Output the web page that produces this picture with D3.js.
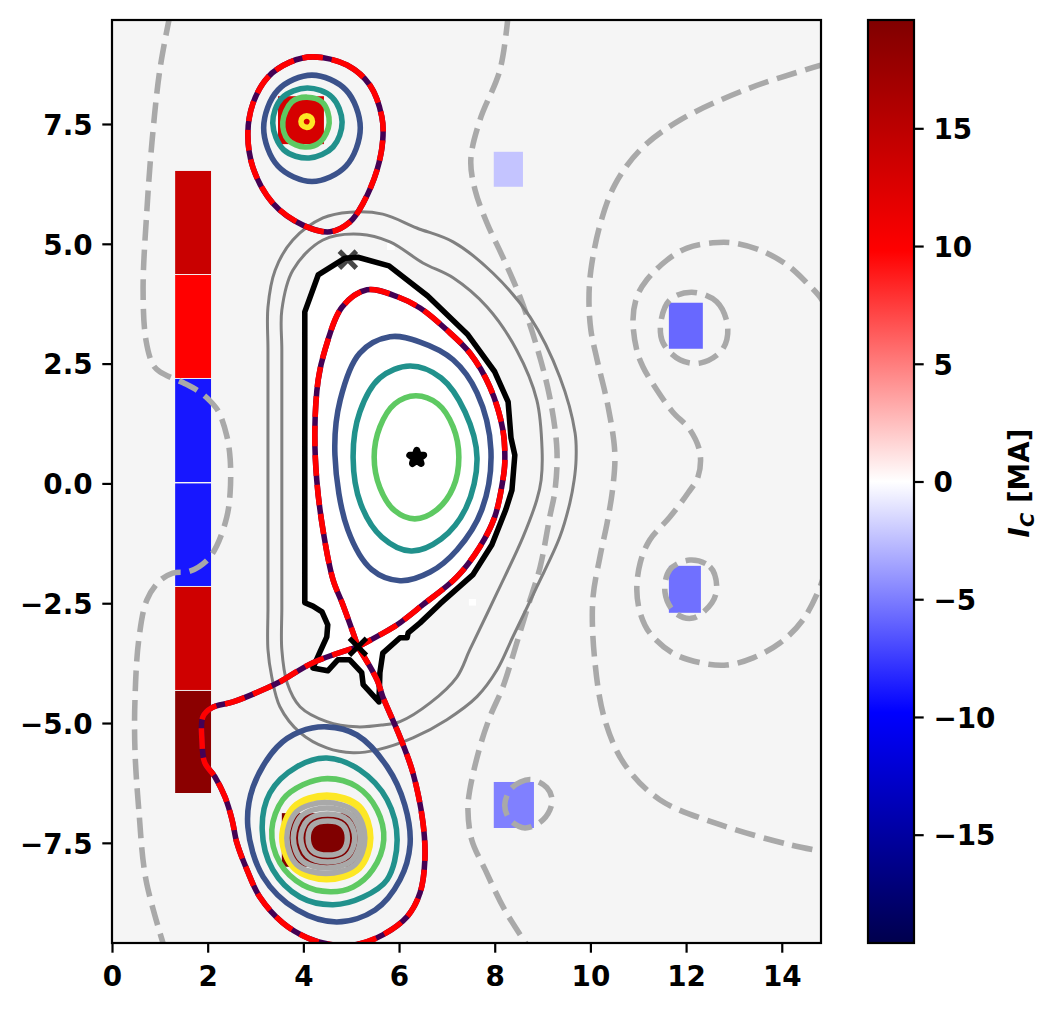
<!DOCTYPE html>
<html lang="en">

<head>
  <meta charset="UTF-8">
  <title>Equilibrium flux contours</title>
  <script src="https://d3js.org/d3.v7.min.js"></script>
  <style>
    body {
      margin: 0;
      background: #ffffff;
    }

    svg {
      display: block;
    }

    text {
      font-family: "DejaVu Sans", sans-serif;
      font-weight: bold;
      fill: #000000;
    }

    .tick text {
      font-size: 27.8px;
    }

    path.contour {
      fill: none;
      stroke-linejoin: round;
    }
  </style>
</head>

<body>
  <svg width="1057" height="1011"></svg>
  <script>
    // tick labels and limits
    const xLimits = [0, 14.82];
    const yLimits = [-9.59, 9.67];
    const currentLimits = [-19.6, 19.6];
    const xTicks = [0, 2, 4, 6, 8, 10, 12, 14];
    const yTicks = [-7.5, -5, -2.5, 0, 2.5, 5, 7.5];
    const currentTicks = [-15, -10, -5, 0, 5, 10, 15];

    // seismic colormap anchors
    const seismicValues = [-19.6, -9.8, 0, 9.8, 19.6];
    const seismicColors = ["#00004d", "#0000ff", "#ffffff", "#ff0000", "#800000"];

    // coils: [r0, r1, z0, z1, current in MA]
    const coils = [
      [1.32, 2.07, 4.37, 6.52, 14.0],
      [1.32, 2.07, 2.2, 4.35, 9.8],
      [1.32, 2.07, 0.03, 2.18, -8.9],
      [1.32, 2.07, -2.14, 0, -8.9],
      [1.32, 2.07, -4.31, -2.16, 13.5],
      [1.32, 2.07, -6.46, -4.33, 18.75],
      [3.47, 4.43, 7.08, 8.08, 13.0],
      [7.98, 8.59, 6.19, 6.92, -2.26],
      [11.64, 12.35, 2.81, 3.77, -5.8],
      [11.64, 12.31, -2.70, -1.72, -5.5],
      [7.98, 8.82, -7.19, -6.23, -4.9],
      [3.55, 5.18, -8.0, -6.88, 19.6]
    ];
    const whiteSpecks = [
      [7.46, 7.61, -2.55, -2.41],
      [5.75, 5.91, 4.87, 5.02]
    ];

    // first wall
    const limiter = [[4.03, -2.49], [4.03, 3.58], [4.31, 4.35], [4.87, 4.70], [5.14, 4.72], [5.79, 4.54], [6.60, 3.91], [7.44, 3.10], [8.00, 2.33], [8.28, 1.70], [8.34, 0.95], [8.42, 0.59], [8.36, -0.14], [8.23, -0.55], [7.94, -1.28], [7.54, -1.91], [6.86, -2.51], [6.44, -2.91], [6.19, -3.12], [6.17, -3.22], [6.02, -3.22], [5.66, -3.54], [5.60, -3.95], [5.58, -4.56], [5.25, -4.20], [5.22, -3.95], [4.97, -3.68], [4.72, -3.68], [4.51, -3.91], [4.20, -3.85], [4.35, -3.51], [4.49, -3.20], [4.51, -2.95], [4.39, -2.68], [4.20, -2.56]];

    // separatrix pieces
    const sepCore = [[5.14, -3.41], [5.04, -3.12], [4.81, -2.49], [4.62, -2.01], [4.41, -0.97], [4.28, 0.07], [4.24, 1.12], [4.31, 2.16], [4.45, 2.78], [4.81, 3.68], [5.33, 4.04], [5.98, 3.89], [6.44, 3.66], [7.00, 3.20], [7.48, 2.72], [7.90, 2.01], [8.17, 1.12], [8.21, 0.43], [8.17, 0.07], [8.00, -0.70], [7.69, -1.32], [7.21, -1.95], [6.50, -2.53], [5.96, -2.95], [5.60, -3.16], [5.14, -3.41]];
    const sepLower = [[5.14, -3.41], [5.54, -4.10], [5.66, -4.45], [6.02, -5.29], [6.29, -6.04], [6.50, -7.08], [6.54, -7.85], [6.44, -8.54], [6.17, -9.04], [5.66, -9.42], [5.12, -9.62], [4.56, -9.62], [4.08, -9.48], [3.57, -9.17], [3.09, -8.63], [2.82, -8.06], [2.61, -7.50], [2.51, -7.02], [2.36, -6.54], [2.15, -6.12], [1.94, -5.83], [1.88, -5.35], [1.90, -4.87], [2.09, -4.68], [2.53, -4.56], [3.24, -4.27], [3.51, -4.14], [4.20, -3.74], [5.14, -3.41]];
    const sepUpper = [[4.20, 8.90], [4.91, 8.73], [5.39, 8.31], [5.64, 7.65], [5.66, 7.17], [5.54, 6.54], [5.25, 5.85], [4.97, 5.45], [4.56, 5.25], [3.99, 5.39], [3.36, 5.85], [2.95, 6.58], [2.84, 7.31], [2.95, 7.94], [3.26, 8.48], [3.72, 8.79]];

    // closed flux levels, one colour per level
    const coreBlue = [[4.66, 0.59], [4.77, 1.74], [5.18, 2.72], [5.81, 3.06], [6.44, 2.95], [7.13, 2.58], [7.63, 1.89], [7.92, 0.70], [7.73, -0.55], [7.21, -1.39], [6.65, -1.85], [6.02, -2.03], [5.43, -1.80], [4.93, -0.97]];
    const coreTeal = [[7.63, 0.53], [7.38, 1.49], [6.88, 2.20], [6.23, 2.45], [5.60, 2.20], [5.18, 1.49], [5.04, 0.53], [5.20, -0.43], [5.64, -1.12], [6.25, -1.41], [6.88, -1.16], [7.40, -0.51]];
    const coreGreen = [[7.25, 0.55], [7.13, 1.18], [6.81, 1.66], [6.35, 1.83], [5.91, 1.66], [5.60, 1.18], [5.48, 0.55], [5.60, -0.09], [5.91, -0.57], [6.33, -0.74], [6.79, -0.55], [7.13, -0.09]];

    const upperBlue = [[4.18, 8.52], [4.89, 8.21], [5.19, 7.42], [4.89, 6.62], [4.18, 6.30], [3.47, 6.62], [3.17, 7.42], [3.47, 8.21]];
    const upperTeal = [[4.08, 8.25], [4.60, 8.06], [4.81, 7.54], [4.62, 7.02], [4.12, 6.79], [3.59, 6.96], [3.36, 7.52], [3.55, 8.04]];
    const upperGreen = [[4.08, 8.06], [4.41, 7.94], [4.54, 7.52], [4.35, 7.12], [4.03, 7.02], [3.68, 7.17], [3.57, 7.54], [3.76, 7.96]];
    const upperYellow = [[4.07, 7.67], [4.16, 7.63], [4.19, 7.55], [4.15, 7.46], [4.07, 7.43], [3.98, 7.47], [3.95, 7.55], [3.98, 7.63]];

    const lowerBlue = [[4.49, -5.08], [5.12, -5.25], [5.75, -5.91], [6.12, -6.71], [6.23, -7.54], [6.02, -8.27], [5.50, -8.90], [4.70, -9.15], [3.87, -8.90], [3.16, -8.21], [2.84, -7.17], [2.95, -6.33], [3.45, -5.50], [3.93, -5.18]];
    const lowerTeal = [[4.49, -5.73], [5.18, -5.98], [5.75, -6.60], [5.96, -7.44], [5.75, -8.27], [5.25, -8.63], [4.62, -8.79], [3.93, -8.63], [3.36, -8.06], [3.14, -7.23], [3.30, -6.46], [3.87, -5.91]];
    const lowerGreen = [[4.51, -6.16], [5.12, -6.33], [5.54, -6.81], [5.68, -7.44], [5.45, -8.06], [5.04, -8.42], [4.56, -8.52], [3.99, -8.38], [3.51, -7.92], [3.34, -7.23], [3.57, -6.60], [3.99, -6.29]];
    const lowerYellow = [[4.49, -6.52], [5.16, -6.75], [5.39, -7.40], [5.16, -8.02], [4.49, -8.25], [3.82, -8.02], [3.57, -7.40], [3.82, -6.75]];

    // packed levels inside the lower coil
    const lowerRings = [
      [[4.47, -6.66], [5.08, -6.85], [5.285, -7.40], [5.08, -7.95], [4.47, -8.14], [3.86, -7.95], [3.655, -7.40], [3.86, -6.85]],
      [[4.49, -6.774], [5.01, -6.93], [5.19, -7.40], [5.01, -7.87], [4.49, -8.026], [3.97, -7.87], [3.79, -7.40], [3.97, -6.93]],
      [[4.51, -6.90], [4.93, -7.03], [5.075, -7.40], [4.93, -7.77], [4.51, -7.90], [4.09, -7.77], [3.945, -7.40], [4.09, -7.03]],
      [[4.51, -7.045], [4.82, -7.13], [4.92, -7.40], [4.82, -7.67], [4.51, -7.755], [4.20, -7.67], [4.10, -7.40], [4.20, -7.13]]
    ];

    // scrape-off layer levels
    const solOuter = [[3.26, -2.60], [3.26, -1.60], [3.26, 0], [3.26, 1.74], [3.26, 2.80], [3.26, 3.68], [3.41, 4.45], [3.78, 5.08], [4.41, 5.54], [4.97, 5.66], [5.66, 5.62], [6.37, 5.33], [7.13, 5.04], [7.96, 4.39], [8.74, 3.47], [9.36, 2.22], [9.68, 1.05], [9.70, 0.49], [9.66, 0.07], [9.57, -0.41], [9.36, -1.12], [8.88, -2.16], [8.38, -3.20], [8.05, -3.89], [7.63, -4.45], [7.00, -4.93], [6.29, -5.31], [5.54, -5.56], [5.04, -5.62], [4.49, -5.52], [3.93, -5.20], [3.51, -4.66], [3.34, -4.04], [3.26, -3.47]];
    const solInner = [[3.55, -2.60], [3.55, -1.60], [3.55, 0], [3.55, 1.74], [3.55, 2.80], [3.55, 3.62], [3.78, 4.45], [4.41, 5.08], [5.18, 5.20], [5.81, 5.04], [6.50, 4.60], [7.13, 4.29], [7.84, 3.68], [8.46, 2.78], [8.88, 1.74], [8.99, 0.70], [8.97, 0.07], [8.88, -0.34], [8.59, -1.12], [8.05, -2.28], [7.48, -3.47], [7.21, -4.04], [6.65, -4.58], [6.02, -4.97], [5.66, -5.04], [5.12, -5.08], [4.49, -4.97], [3.93, -4.66], [3.66, -4.16], [3.55, -3.47]];

    // dashed vacuum levels
    const vacuumLeft = [[1.21, 9.77], [1.00, 8.63], [0.84, 7.17], [0.73, 5.71], [0.65, 4.04], [0.71, 2.99], [0.86, 2.47], [1.00, 2.33], [1.53, 2.08], [1.80, 1.93], [2.01, 1.76], [2.22, 1.51], [2.40, 0.99], [2.47, 0.51], [2.47, -0.18], [2.40, -0.70], [2.19, -1.30], [1.99, -1.60], [1.63, -1.83], [1.27, -1.87], [1.00, -2.03], [0.73, -2.43], [0.56, -3.26], [0.48, -4.52], [0.48, -5.56], [0.56, -6.81], [0.71, -8.27], [1.11, -9.73]];
    const vacuumMiddle = [[8.28, 9.77], [8.11, 8.63], [7.69, 7.58], [7.50, 6.75], [7.59, 6.12], [7.84, 5.43], [8.17, 4.72], [8.53, 3.89], [8.88, 2.85], [9.15, 1.80], [9.30, 0.70], [9.26, -0.14], [9.15, -0.70], [8.95, -1.74], [8.69, -2.58], [8.46, -3.33], [8.17, -4.25], [7.90, -4.87], [7.69, -5.50], [7.48, -6.39], [7.44, -6.81], [7.52, -7.44], [7.80, -8.06], [8.21, -8.90], [8.74, -9.73]];
    const vacuumRight = [[14.90, 8.75], [13.33, 8.25], [11.87, 7.58], [11.04, 6.96], [10.51, 6.23], [10.20, 5.39], [10.01, 4.45], [9.97, 3.83], [10.01, 3.20], [10.14, 2.58], [10.37, 1.60], [10.51, 0.64], [10.47, -0.07], [10.35, -0.82], [10.20, -1.53], [10.05, -2.43], [10.09, -3.68], [10.30, -4.93], [10.72, -5.87], [11.45, -6.60], [12.71, -7.12], [14.17, -7.54], [14.90, -7.69]];
    const vacuumBulge = [[14.90, 3.72], [14.80, 3.89], [14.53, 4.18], [14.11, 4.56], [13.54, 4.87], [12.98, 5.02], [12.56, 5.02], [12.02, 4.91], [11.60, 4.66], [11.18, 4.25], [10.97, 3.89], [10.89, 3.41], [10.97, 2.78], [11.10, 2.43], [11.39, 1.95], [11.72, 1.49], [12.08, 1.12], [12.29, 0.64], [12.25, 0.14], [12.04, -0.20], [11.66, -0.70], [11.24, -1.18], [11.04, -1.66], [10.97, -2.22], [11.04, -2.70], [11.24, -3.12], [11.72, -3.54], [12.29, -3.74], [12.85, -3.79], [13.40, -3.64], [13.96, -3.33], [14.44, -2.85], [14.80, -2.16], [14.90, -1.85]];
    const loopUpperRight = [[12.12, 3.99], [12.64, 3.79], [12.87, 3.26], [12.75, 2.78], [12.29, 2.51], [11.87, 2.58], [11.52, 2.93], [11.47, 3.35], [11.66, 3.83]];
    const loopLowerRight = [[12.08, -1.60], [12.50, -1.74], [12.64, -2.16], [12.54, -2.49], [12.14, -2.81], [11.77, -2.70], [11.56, -2.28], [11.66, -1.80]];
    const loopLowerMid = [[8.21, -6.71], [8.36, -6.35], [8.74, -6.18], [9.09, -6.35], [9.20, -6.64], [9.01, -7.02], [8.63, -7.19], [8.32, -7.02]];

    // magnetic axis and x points
    const oPoint = [6.37, 0.54];
    const xPointUpper = [4.93, 4.67];
    const xPointLower = [5.14, -3.41];

    const svg = d3.select("svg");
    const plotLeft = 112, plotRight = 821, plotTop = 20, plotBottom = 943;
    const barLeft = 868, barRight = 914;
    const lw = 5.56;

    const x = d3.scaleLinear().domain(xLimits).range([plotLeft, plotRight]);
    const y = d3.scaleLinear().domain(yLimits).range([plotBottom, plotTop]);
    const yBar = d3.scaleLinear().domain(currentLimits).range([plotBottom, plotTop]);
    const seismic = d3.scaleLinear().domain(seismicValues).range(seismicColors);

    svg.append("clipPath").attr("id", "plotClip")
      .append("rect")
      .attr("x", plotLeft).attr("y", plotTop)
      .attr("width", plotRight - plotLeft).attr("height", plotBottom - plotTop);

    const closedLine = d3.line().x(d => x(d[0])).y(d => y(d[1])).curve(d3.curveCatmullRomClosed.alpha(0.5));
    const openLine = d3.line().x(d => x(d[0])).y(d => y(d[1])).curve(d3.curveCatmullRom.alpha(0.5));
    const wallLine = d3.line().x(d => x(d[0])).y(d => y(d[1])).curve(d3.curveLinearClosed);

    svg.append("rect")
      .attr("x", plotLeft).attr("y", plotTop)
      .attr("width", plotRight - plotLeft).attr("height", plotBottom - plotTop)
      .attr("fill", "#f5f5f5");

    const plot = svg.append("g").attr("clip-path", "url(#plotClip)");

    function contour(data, gen, color, width, dash) {
      plot.append("path")
        .datum(data)
        .attr("class", "contour")
        .attr("d", gen)
        .attr("stroke", color)
        .attr("stroke-width", width)
        .attr("stroke-dasharray", dash || null);
    }

    // inside of the vessel is white
    plot.append("path").datum(limiter).attr("d", wallLine).attr("fill", "#ffffff");

    plot.selectAll("rect.speck")
      .data(whiteSpecks)
      .enter()
      .append("rect")
      .attr("class", "speck")
      .attr("x", d => x(d[0]))
      .attr("y", d => y(d[3]))
      .attr("width", d => x(d[1]) - x(d[0]))
      .attr("height", d => y(d[2]) - y(d[3]))
      .attr("fill", "#ffffff");

    plot.selectAll("rect.coil")
      .data(coils)
      .enter()
      .append("rect")
      .attr("class", "coil")
      .attr("x", d => x(d[0]))
      .attr("y", d => y(d[3]))
      .attr("width", d => x(d[1]) - x(d[0]))
      .attr("height", d => y(d[2]) - y(d[3]))
      .attr("fill", d => seismic(d[4]));

    const dashed = "20.6 8.9";
    [vacuumLeft, vacuumMiddle, vacuumRight, vacuumBulge].forEach(c => contour(c, openLine, "#a9a9a9", lw, dashed));
    [loopUpperRight, loopLowerRight, loopLowerMid].forEach(c => contour(c, closedLine, "#a9a9a9", lw, dashed));

    contour(solOuter, closedLine, "#808080", 3);
    contour(solInner, closedLine, "#808080", 3);

    [coreBlue, upperBlue, lowerBlue].forEach(c => contour(c, closedLine, "#3b528b", lw));
    [coreTeal, upperTeal, lowerTeal].forEach(c => contour(c, closedLine, "#21918c", lw));
    [coreGreen, upperGreen, lowerGreen].forEach(c => contour(c, closedLine, "#5ec962", lw));
    contour(upperYellow, closedLine, "#fde725", lw);
    contour(lowerYellow, closedLine, "#fde725", 7.5);
    lowerRings.forEach(c => contour(c, closedLine, "#a9a9a9", lw));

    contour(limiter, wallLine, "#000000", lw);

    // separatrix: solid purple level with the red dashes on top
    [[sepCore, openLine], [sepLower, openLine], [sepUpper, closedLine]].forEach(([c, gen]) => {
      contour(c, gen, "#440154", lw);
      contour(c, gen, "#ff0000", lw, dashed);
    });

    const timesMark = d3.symbol().type(d3.symbolTimes).size(190);
    const starMark = d3.symbol().type(d3.symbolStar).size(60);
    const marker = (point, gen) => plot.append("path")
      .attr("d", gen)
      .attr("transform", `translate(${x(point[0])},${y(point[1])})`);

    marker(xPointUpper, timesMark).attr("fill", "none").attr("stroke", "#000000").attr("stroke-width", 5).attr("opacity", 0.72);
    marker(xPointLower, timesMark).attr("fill", "none").attr("stroke", "#000000").attr("stroke-width", 5);
    marker(oPoint, starMark).attr("fill", "#000000").attr("stroke", "#000000").attr("stroke-width", 7).attr("stroke-linejoin", "round");

    // axes
    const tickSize = 9.7;
    const styleAxis = g => {
      g.attr("font-family", null).attr("font-size", null);
      g.selectAll(".domain").remove();
      g.selectAll(".tick line").attr("stroke", "#000000").attr("stroke-width", 2.2);
    };

    svg.append("g")
      .attr("transform", `translate(0,${plotBottom})`)
      .call(d3.axisBottom(x).tickValues(xTicks).tickSize(tickSize).tickPadding(14).tickFormat(d3.format("d")))
      .call(styleAxis);

    svg.append("g")
      .attr("transform", `translate(${plotLeft},0)`)
      .call(d3.axisLeft(y).tickValues(yTicks).tickSize(tickSize).tickPadding(9.7).tickFormat(d3.format(".1f")))
      .call(styleAxis)
      .call(g => g.selectAll(".tick text").attr("dy", "0.37em"));

    svg.append("rect")
      .attr("x", plotLeft).attr("y", plotTop)
      .attr("width", plotRight - plotLeft).attr("height", plotBottom - plotTop)
      .attr("fill", "none").attr("stroke", "#000000").attr("stroke-width", 2.2);

    // colorbar
    const gradient = svg.append("linearGradient")
      .attr("id", "seismicBar")
      .attr("x1", 0).attr("y1", 1).attr("x2", 0).attr("y2", 0);
    gradient.selectAll("stop")
      .data(seismicValues)
      .enter()
      .append("stop")
      .attr("offset", d => (d - currentLimits[0]) / (currentLimits[1] - currentLimits[0]))
      .attr("stop-color", d => seismic(d));

    svg.append("rect")
      .attr("x", barLeft).attr("y", plotTop)
      .attr("width", barRight - barLeft).attr("height", plotBottom - plotTop)
      .attr("fill", "url(#seismicBar)");

    svg.append("g")
      .attr("transform", `translate(${barRight},0)`)
      .call(d3.axisRight(yBar).tickValues(currentTicks).tickSize(tickSize).tickPadding(9.7).tickFormat(d3.format("d")))
      .call(styleAxis)
      .call(g => g.selectAll(".tick text").attr("dy", "0.37em"));

    svg.append("rect")
      .attr("x", barLeft).attr("y", plotTop)
      .attr("width", barRight - barLeft).attr("height", plotBottom - plotTop)
      .attr("fill", "none").attr("stroke", "#000000").attr("stroke-width", 2.2);

    const label = svg.append("text")
      .attr("transform", "translate(1029,483) rotate(-90)")
      .attr("text-anchor", "middle")
      .attr("font-size", 27.8);
    label.append("tspan").attr("font-style", "italic").text("I");
    label.append("tspan").attr("font-style", "italic").attr("font-size", 19.5).attr("dy", 5).text("C");
    label.append("tspan").attr("dy", -5).text(" [MA]");
  </script>
</body>

</html>
